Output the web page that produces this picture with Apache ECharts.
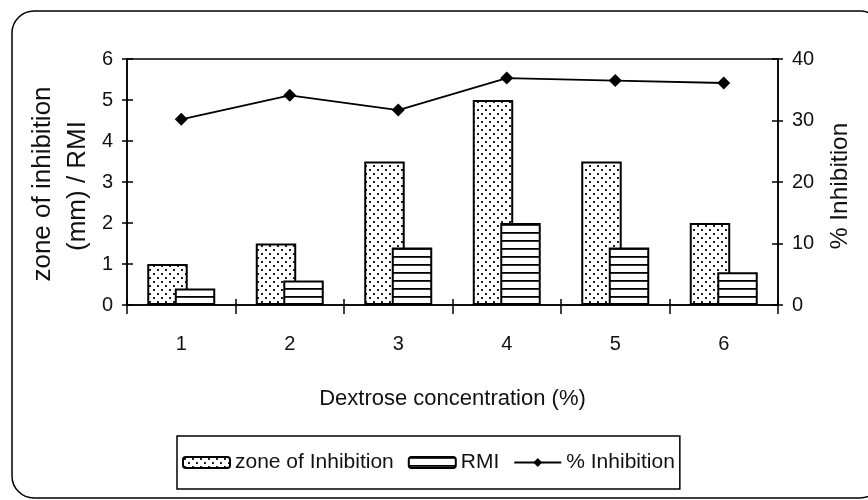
<!DOCTYPE html>
<html><head><meta charset="utf-8">
<script src="https://cdn.jsdelivr.net/npm/echarts@6/dist/echarts.min.js"></script>
<style>html,body{margin:0;padding:0;background:#fff}#c{width:868px;height:500px}</style>
</head><body><div id="c"></div>
<script>
const categories = ['1', '2', '3', '4', '5', '6'];
const zoneOfInhibition = [1.0, 1.5, 3.5, 5.0, 3.5, 2.0];
const rmi = [0.4, 0.6, 1.4, 2.0, 1.4, 0.8];
const pctInhibition = [30.2, 34.1, 31.7, 36.9, 36.5, 36.1];
const seriesNames = ['zone of Inhibition', 'RMI', '% Inhibition'];

const hFont = '"Liberation Sans", Arial, sans-serif';
const vFont = '"Liberation Sans", Arial, sans-serif';

function dotPattern() {
  const c = document.createElement('canvas'); c.width = 8; c.height = 8;
  const g = c.getContext('2d');
  g.fillStyle = '#fff'; g.fillRect(0, 0, 8, 8);
  g.fillStyle = '#222';
  g.fillRect(1, 1, 2, 2); g.fillRect(5, 5, 2, 2);
  return c;
}
function stripePattern() {
  const c = document.createElement('canvas'); c.width = 4; c.height = 8;
  const g = c.getContext('2d');
  g.fillStyle = '#fff'; g.fillRect(0, 0, 4, 8);
  g.fillStyle = '#000'; g.fillRect(0, 0, 4, 1.8);
  return c;
}

const chart = echarts.init(document.getElementById('c'), null, {renderer: 'canvas'});
const black = '#000';
const txt = '#111';
const option = {
  animation: false,
  backgroundColor: '#fff',
  grid: {left: 127, right: 90, top: 59, bottom: 195, show: true, borderColor: black, borderWidth: 1.5, backgroundColor: 'transparent'},
  legend: {
    left: 177, top: 436, padding: [16, 5], itemGap: 14, itemWidth: 47, itemHeight: 11,
    borderColor: black, borderWidth: 1.5, borderRadius: 0,
    textStyle: {fontFamily: hFont, fontSize: 21, color: txt},
    data: seriesNames
  },
  xAxis: [
    {type: 'category', data: categories, position: 'bottom',
     axisLine: {show: true, lineStyle: {color: black, width: 1.5}},
     axisTick: {show: true, length: 9, lineStyle: {color: black, width: 1.5}},
     axisLabel: {margin: 29, color: txt, fontFamily: hFont, fontSize: 20},
     name: 'Dextrose concentration (%)', nameLocation: 'middle', nameGap: 83,
     nameTextStyle: {color: txt, fontFamily: hFont, fontSize: 22}},
    {type: 'category', data: categories, position: 'bottom',
     axisLine: {show: false}, axisLabel: {show: false},
     axisTick: {show: true, inside: true, length: 6, lineStyle: {color: black, width: 1.5}}}
  ],
  yAxis: [
    {type: 'value', min: 0, max: 6, interval: 1, position: 'left',
     axisLine: {show: true, lineStyle: {color: black, width: 1.5}},
     axisTick: {show: true, length: 5, lineStyle: {color: black, width: 1.5}},
     axisLabel: {margin: 14, color: txt, fontFamily: hFont, fontSize: 20},
     splitLine: {show: false}},
    {type: 'value', min: 0, max: 40, interval: 10, position: 'right',
     axisLine: {show: true, lineStyle: {color: black, width: 1.5}},
     axisTick: {show: true, length: 5, lineStyle: {color: black, width: 1.5}},
     axisLabel: {margin: 14, color: txt, fontFamily: hFont, fontSize: 20},
     splitLine: {show: false}},
    {type: 'value', min: 0, max: 6, interval: 1, position: 'left',
     axisLine: {show: false}, axisLabel: {show: false}, splitLine: {show: false},
     axisTick: {show: true, inside: true, length: 6, lineStyle: {color: black, width: 1.5}}},
    {type: 'value', min: 0, max: 40, interval: 10, position: 'right',
     axisLine: {show: false}, axisLabel: {show: false}, splitLine: {show: false},
     axisTick: {show: true, inside: true, length: 6, lineStyle: {color: black, width: 1.5}}}
  ],
  series: [
    {name: seriesNames[0], type: 'bar', data: zoneOfInhibition, xAxisIndex: 0, yAxisIndex: 0,
     barWidth: '37.3%', barGap: '-32%',
     itemStyle: {color: {image: dotPattern(), repeat: 'repeat'}, borderColor: black, borderWidth: 2}},
    {name: seriesNames[1], type: 'bar', data: rmi, xAxisIndex: 0, yAxisIndex: 0,
     barWidth: '37.3%', barGap: '-32%',
     itemStyle: {color: {image: stripePattern(), repeat: 'repeat'}, borderColor: black, borderWidth: 2}},
    {name: seriesNames[2], type: 'line', data: pctInhibition, xAxisIndex: 0, yAxisIndex: 1,
     symbol: 'diamond', symbolSize: 13, z: 5,
     lineStyle: {color: black, width: 1.8}, itemStyle: {color: black}}
  ],
  graphic: [
    {type: 'rect', shape: {x: 12, y: 11, width: 870, height: 487, r: 22},
     style: {fill: 'none', stroke: black, lineWidth: 1.5}, silent: true, z: -1},
    {type: 'text', x: 43, y: 184, rotation: Math.PI / 2,
     style: {text: 'zone of inhibition', fill: txt, font: '26px ' + vFont, align: 'center', verticalAlign: 'middle'}},
    {type: 'text', x: 78, y: 186, rotation: Math.PI / 2,
     style: {text: '(mm) / RMI', fill: txt, font: '26px ' + vFont, align: 'center', verticalAlign: 'middle'}},
    {type: 'text', x: 840, y: 186, rotation: Math.PI / 2,
     style: {text: '% Inhibition', fill: txt, font: '24.5px ' + vFont, align: 'center', verticalAlign: 'middle'}}
  ]
};
chart.setOption(option);
</script></body></html>
